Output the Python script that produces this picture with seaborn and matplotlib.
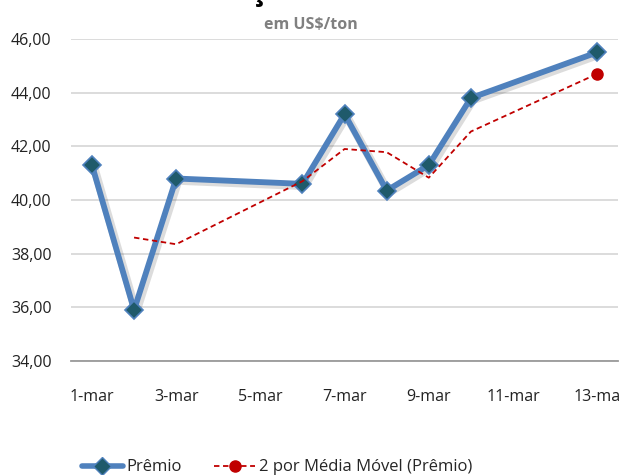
import numpy as np
import pandas as pd
import matplotlib
matplotlib.use('Agg')
import matplotlib.pyplot as plt
import matplotlib.patheffects as pe
from matplotlib.lines import Line2D
import seaborn as sns

# ---- data ----
days = [1, 2, 3, 6, 7, 8, 9, 10, 13]
premio = [41.30, 35.90, 40.80, 40.60, 43.20, 40.35, 41.30, 43.80, 45.50]
ma_days = [2, 3, 6, 7, 8, 9, 10, 13]
media_movel = [38.60, 38.35, 40.70, 41.90, 41.78, 40.83, 42.55, 44.70]
x_ticks = [1, 3, 5, 7, 9, 11, 13]
x_labels = ['1-mar', '3-mar', '5-mar', '7-mar', '9-mar', '11-mar', '13-ma']
y_ticks = [34, 36, 38, 40, 42, 44, 46]

sns.set_theme(style='white')
plt.rcParams['font.family'] = ['Open Sans', 'DejaVu Sans']

df = pd.DataFrame({'dia': days, 'Prêmio': premio})
df_ma = pd.DataFrame({'dia': ma_days, 'mm': media_movel})

fig = plt.figure(figsize=(6.22, 4.75), dpi=100)
ax = fig.add_axes([0.114, 0.24, 0.88, 0.678])

blue = '#4F81BD'
teal = '#1F5A6B'
red = '#C00000'

shadow = [pe.SimpleLineShadow(offset=(1.5, -1.5), alpha=0.15, linewidth=6),
          pe.Normal()]

# line (with soft shadow) and diamond markers drawn separately
sns.lineplot(data=df, x='dia', y='Prêmio', ax=ax, color=blue, linewidth=4.2,
             zorder=3, path_effects=shadow)
sns.lineplot(data=df, x='dia', y='Prêmio', ax=ax, color=blue, linestyle='',
             marker='D', markersize=9.5, markerfacecolor=teal,
             markeredgecolor=blue, markeredgewidth=1.2, zorder=4)
sns.lineplot(data=df_ma, x='dia', y='mm', ax=ax, color=red, linewidth=1.3,
             linestyle=(0, (3, 2)), zorder=5)
ax.plot(ma_days[-1:], media_movel[-1:], 'o', color=red, markersize=8, zorder=6)

ax.set_xlim(0.5, 13.5)
ax.set_ylim(34, 46)
ax.set_xticks(x_ticks)
ax.set_xticklabels(x_labels)
ax.set_yticks(y_ticks)
ax.set_yticklabels([f'{v:.2f}'.replace('.', ',') for v in y_ticks])
ax.tick_params(axis='both', length=0, labelsize=11.5, colors='#222222')
ax.tick_params(axis='x', pad=20)
ax.tick_params(axis='y', pad=14)
ax.set_xlabel('')
ax.set_ylabel('')

ax.grid(axis='y', color='#D9D9D9', linewidth=1.3)
ax.set_axisbelow(True)
for s in ['top', 'right', 'left']:
    ax.spines[s].set_visible(False)
ax.spines['bottom'].set_color('#9A9A9A')
ax.spines['bottom'].set_linewidth(1.3)

# title cut off at the top of the image, subtitle below it
fig.text(0.39, 1.0, 'Cotação', ha='center', va='baseline',
         fontsize=22, fontweight='bold', color='black')
fig.text(0.5, 0.948, 'em US$/ton', ha='center', va='center',
         fontsize=11.5, fontweight='bold', color='#808080')

handles = [
    Line2D([], [], color=blue, linewidth=4, marker='D', markersize=9,
           markerfacecolor=teal, markeredgecolor=blue, markevery=[1]),
    Line2D([], [], color=red, linewidth=1.3, linestyle=(0, (3, 2)),
           marker='o', markersize=8, markevery=[1]),
]
fig.legend(handles, ['Prêmio', '2 por Média Móvel (Prêmio)'],
           loc='center', bbox_to_anchor=(0.445, 0.016), ncol=2, frameon=False,
           fontsize=12, handlelength=2.5, handletextpad=0.2, columnspacing=1.9)

fig.savefig('out.png', dpi=100)
